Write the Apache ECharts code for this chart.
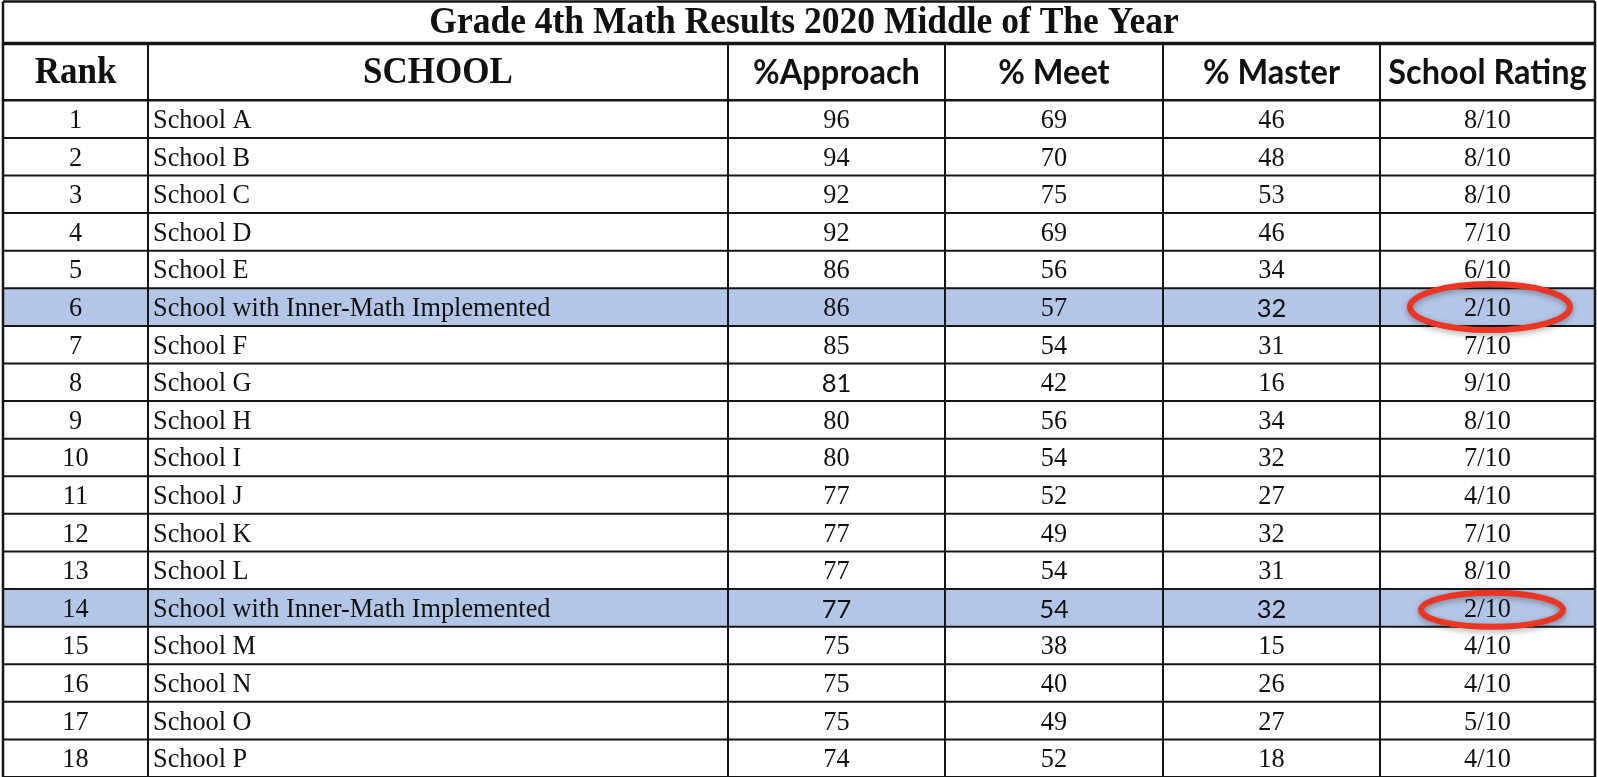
<!DOCTYPE html>
<html><head><meta charset="utf-8">
<script src="https://cdn.jsdelivr.net/npm/echarts@6/dist/echarts.min.js"></script>
<style>html,body{margin:0;padding:0;background:#fff}#c{width:1597px;height:777px}</style>
</head><body><div id="c"></div>
<script>
// ---------- DATA ----------
const title = 'Grade 4th Math Results 2020 Middle of The Year';
const headers = ['Rank', 'SCHOOL', '%Approach', '% Meet', '% Master', 'School Rating'];
const ranks = [1, 2, 3, 4, 5, 6, 7, 8, 9, 10, 11, 12, 13, 14, 15, 16, 17, 18];
const schools = ['School A', 'School B', 'School C', 'School D', 'School E',
  'School with Inner-Math Implemented', 'School F', 'School G', 'School H', 'School I',
  'School J', 'School K', 'School L', 'School with Inner-Math Implemented',
  'School M', 'School N', 'School O', 'School P'];
const approach = [96, 94, 92, 92, 86, 86, 85, 81, 80, 80, 77, 77, 77, 77, 75, 75, 75, 74];
const meet = [69, 70, 75, 69, 56, 57, 54, 42, 56, 54, 52, 49, 54, 54, 38, 40, 49, 52];
const master = [46, 48, 53, 46, 34, 32, 31, 16, 34, 32, 27, 32, 31, 32, 15, 26, 27, 18];
const ratings = ['8/10', '8/10', '8/10', '7/10', '6/10', '2/10', '7/10', '9/10', '8/10', '7/10',
  '4/10', '7/10', '8/10', '2/10', '4/10', '4/10', '5/10', '4/10'];
const highlightedRanks = [6, 14];
const circledRanks = [6, 14];

// ---------- LAYOUT / STYLE ----------
const COL_EDGES = [3, 148, 728, 945, 1163, 1380, 1595];
const TITLE_TOP = -2.63, HEADER_TOP = -1.512;   // in row units (data row = 1)
const TITLE_DX = 5;
const SERIF = '"Liberation Serif", "Times New Roman", serif';
const SANS = 'Lato, "Open Sans", sans-serif';
const sansCells = { 6: [4], 8: [2], 14: [2, 3, 4] };
const ellipseGeom = { 6: { dx: 2.5, dy: 0, rx: 80, ry: 23 }, 14: { dx: 4.5, dy: 2, rx: 71, ry: 17 } };
const HILITE = '#b4c6e7';
const LINE = '#151515';

// ---------- BUILD CELLS ----------
const columns = [ranks, schools, approach, meet, master, ratings];
const cells = [];
cells.push({ value: [0, TITLE_TOP, 6, HEADER_TOP], kind: 'title', text: title });
headers.forEach((h, c) => cells.push({ value: [c, HEADER_TOP, c + 1, 0], kind: 'header', text: h }));
ranks.forEach((rk, r) => {
  columns.forEach((col, c) => {
    cells.push({ value: [c, r, c + 1, r + 1], kind: 'data', rank: rk, text: String(col[r]) });
  });
});

const chart = echarts.init(document.getElementById('c'), null, { renderer: 'canvas' });

function cellBox(api, v) {
  const p0 = api.coord([COL_EDGES[v[0]], v[1]]);
  const p1 = api.coord([COL_EDGES[v[2]], v[3]]);
  return { x: p0[0], y: p0[1], w: p1[0] - p0[0], h: p1[1] - p0[1] };
}

const option = {
  animation: false,
  grid: { left: 0, right: 0, top: 0, bottom: 0 },
  xAxis: { type: 'value', min: 0, max: 1597, show: false },
  yAxis: { type: 'value', min: -2.669, max: 18, inverse: true, show: false },
  series: [
    {
      type: 'custom', coordinateSystem: 'cartesian2d', silent: true,
      data: cells,
      encode: { x: [0, 2], y: [1, 3] },
      renderItem(params, api) {
        const d = cells[params.dataIndex];
        const b = cellBox(api, d.value);
        const children = [];
        const c = d.value[0];
        if (d.kind === 'data' && highlightedRanks.includes(d.rank)) {
          children.push({ type: 'rect', shape: { x: b.x, y: b.y, width: b.w, height: b.h }, style: { fill: HILITE } });
        }
        let font, align = 'center', tx = b.x + b.w / 2, sy = 1, dy = 1;
        if (d.kind === 'title') {
          font = 'bold 35.5px ' + SERIF; tx += TITLE_DX; dy = 1; sy = 1.05;
        } else if (d.kind === 'header') {
          if (c < 2) { font = 'bold 35px ' + SERIF; sy = 1.1; }
          else { font = 'bold 32.5px ' + SANS; sy = 1.08; }
        } else {
          const useSans = sansCells[d.rank] && sansCells[d.rank].includes(c);
          font = useSans ? '25.5px ' + SANS : '26.3px ' + SERIF;
          dy = 2;
          if (c === 1) { align = 'left'; tx = b.x + 5; }
        }
        children.push({
          type: 'text', x: tx, y: b.y + b.h / 2 + dy, scaleY: sy,
          style: { text: d.text, x: 0, y: 0, align: align, verticalAlign: 'middle', font: font, fill: '#111' }
        });
        return { type: 'group', children };
      }
    },
    {
      type: 'custom', coordinateSystem: 'cartesian2d', silent: true,
      data: [[0, 0]],
      renderItem(params, api) {
        const ch = [];
        const xL = api.coord([COL_EDGES[0], 0])[0], xR = api.coord([COL_EDGES[6], 0])[0];
        const yT = api.coord([0, TITLE_TOP])[1], yH = api.coord([0, HEADER_TOP])[1], yB = api.coord([0, 18])[1];
        const hl = (y, w) => ch.push({ type: 'line', shape: { x1: xL, y1: y, x2: xR, y2: y }, style: { stroke: LINE, lineWidth: w } });
        hl(yT, 2.5);
        hl(yH, 3.5);
        for (let r = 0; r <= 18; r++) hl(api.coord([0, r])[1], r === 0 ? 2.5 : 2);
        COL_EDGES.forEach((e, i) => {
          const x = api.coord([e, 0])[0];
          const top = (i === 0 || i === 6) ? yT : yH;
          ch.push({ type: 'line', shape: { x1: x, y1: top, x2: x, y2: yB }, style: { stroke: LINE, lineWidth: (i === 0 || i === 6) ? 2.5 : 2 } });
        });
        return { type: 'group', children: ch };
      }
    },
    {
      type: 'custom', coordinateSystem: 'cartesian2d', silent: true,
      data: circledRanks.map(rk => [5, ranks.indexOf(rk)]),
      renderItem(params, api) {
        const c = api.value(0), r = api.value(1);
        const rk = ranks[r];
        const g = ellipseGeom[rk];
        const p0 = api.coord([COL_EDGES[c], r]), p1 = api.coord([COL_EDGES[c + 1], r + 1]);
        const cx = (p0[0] + p1[0]) / 2 + g.dx, cy = (p0[1] + p1[1]) / 2 + g.dy;
        return {
          type: 'ellipse', shape: { cx: cx, cy: cy, rx: g.rx, ry: g.ry },
          style: { fill: 'none', stroke: '#ec3522', lineWidth: 6, shadowBlur: 6, shadowColor: 'rgba(0,0,0,0.35)', shadowOffsetY: 2 }
        };
      }
    }
  ]
};
chart.setOption(option);
</script></body></html>
